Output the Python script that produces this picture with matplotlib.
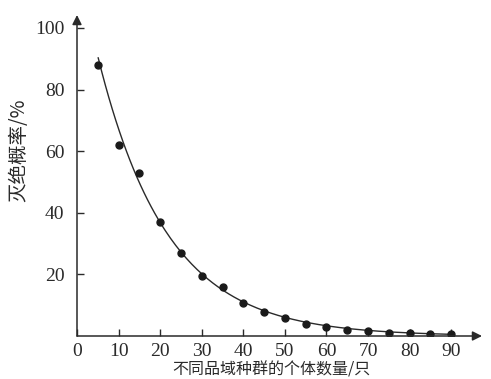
import numpy as np
import matplotlib
matplotlib.use("Agg")
import matplotlib.pyplot as plt

# data
pop_size = [5, 10, 15, 20, 25, 30, 35, 40, 45, 50, 55, 60, 65, 70, 75, 80, 85, 90]
extinct_pct = [88, 62, 53, 37, 27, 19.5, 16, 10.8, 7.8, 5.7, 3.8, 2.9, 2.0, 1.7, 1.1, 1.0, 0.7, 0.7]
# points
curve_x_read = [5.1, 20, 40, 60, 89.5]
curve_y_read = [91.5, 38, 11, 3, 0.6]
x_ticks = [0, 10, 20, 30, 40, 50, 60, 70, 80, 90]
y_ticks = [20, 40, 60, 80, 100]
x_label = "不同品域种群的个体数量/只"
y_label = "灭绝概率/%"

W, H = 491, 379
fig = plt.figure(figsize=(W / 100, H / 100), dpi=100)
x0, x1 = 77, 482
y0, y1 = 336, 15
ax = fig.add_axes([x0 / W, (H - y0) / H, (x1 - x0) / W, (y0 - y1) / H])
ax.set_xlim(0, 97.4)
ax.set_ylim(0, 104.2)

ink = "#2a2a2a"
serif = ["Liberation Serif", "DejaVu Serif"]
cjk = ["Noto Sans CJK SC", "DejaVu Sans"]

# exponential trend line fitted to the values
b, a = np.polyfit(np.array(curve_x_read), np.log(np.array(curve_y_read)), 1)
cx = np.linspace(curve_x_read[0], curve_x_read[-1], 200)
ax.plot(cx, np.exp(a + b * cx), color=ink, lw=1.0, zorder=2)
ax.plot(pop_size, extinct_pct, "o", color="#1a1a1a", ms=5, zorder=3)

for s in ["top", "right", "left", "bottom"]:
    ax.spines[s].set_visible(False)
ax.annotate("", xy=(1, 0), xytext=(0, 0), xycoords="axes fraction",
            arrowprops=dict(arrowstyle="-|>", color=ink, lw=1.1, mutation_scale=14,
                            shrinkA=0, shrinkB=0))
ax.annotate("", xy=(0, 1), xytext=(0, 0), xycoords="axes fraction",
            arrowprops=dict(arrowstyle="-|>", color=ink, lw=1.1, mutation_scale=14,
                            shrinkA=0, shrinkB=0))

ax.set_xticks(x_ticks)
ax.set_yticks(y_ticks)
ax.set_xticklabels([str(v) for v in x_ticks], fontfamily=serif, fontsize=14, color=ink)
ax.set_yticklabels([str(v) for v in y_ticks], fontfamily=serif, fontsize=14, color=ink)
ax.tick_params(axis="both", direction="in", length=5, width=1, color=ink)
ax.tick_params(axis="x", pad=5)
ax.tick_params(axis="y", pad=9)

fig.text(19 / W, 1 - 150 / H, y_label, rotation=90, ha="center", va="center",
         fontfamily=cjk, fontsize=14, color=ink)
fig.text(271 / W, 0.5 / H, x_label, ha="center", va="bottom",
         fontfamily=cjk, fontsize=11.5, color=ink)

fig.savefig("out.png", dpi=100, facecolor="white")
